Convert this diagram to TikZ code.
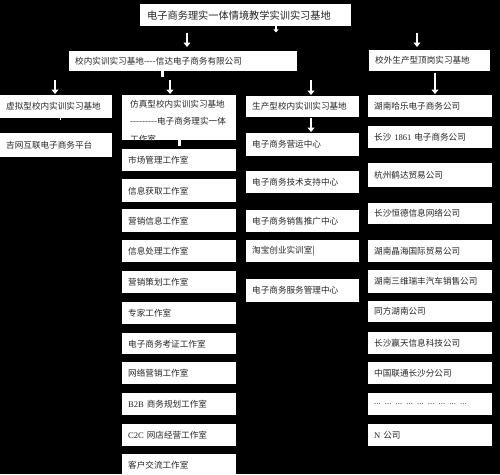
\documentclass[tikz,border=0pt]{standalone}
\usepackage{fontspec}
\setmainfont{Noto Sans CJK SC}
\newfontfamily\lat{Liberation Serif}
\usetikzlibrary{arrows.meta}
\newcommand\bxnode[6]{%
  \pgfmathsetmacro\tw{#4-12}%
  \node[bx, text width=\tw pt, minimum height=#5pt] (#1) at (#2,#3) {#6};}
\begin{document}
\begin{tikzpicture}[x=1pt,y=-1pt,
  bx/.style={fill=white, anchor=north west, inner xsep=6pt, inner ysep=0pt,
    align=left, font=\fontsize{8.6}{10}\selectfont, text=black!85},
  arr/.style={draw=white, line width=2.6pt, -{Triangle[width=7pt,length=4.5pt]}},
  tick/.style={draw=white, line width=3pt}
]
\fill[black] (0,0) rectangle (500,474);
\useasboundingbox (0,0) rectangle (500,474);

% top level
\node[bx, font=\fontsize{10.2}{12}\selectfont, minimum width=211pt, minimum height=22pt, inner xsep=7pt, text width=197pt] (top) at (140,4) {电子商务理实一体情境教学实训实习基地};
\bxnode{xn}{69}{51}{228}{20}{校内实训实习基地-{}-{}-{}-信达电子商务有限公司}
\bxnode{xw}{369}{50}{121}{21}{校外生产型顶岗实习基地}

% column 1
\bxnode{xn1}{0}{95}{112}{23}{虚拟型校内实训实习基地}
\bxnode{xn2}{0}{133}{112}{24}{吉网互联电子商务平台}

% column 2
\node[fill=white, anchor=north west, minimum width=114pt, minimum height=45pt, inner sep=0pt] (fz) at (122,95) {};
\begin{scope}
  \clip (fz.south west) rectangle (fz.north east);
  \node[anchor=north west, inner sep=0pt, align=left, text=black!85,
    font=\fontsize{8.6}{17.5}\selectfont] (fzt) at (130,100)
    {仿真型校内实训实习基地\\-{}-{}-{}-{}-{}-{}-{}-{}-电子商务理实一体\\工作室};
\end{scope}
\bxnode{s1}{122}{149}{114}{22}{市场管理工作室}
\bxnode{s2}{122}{179}{114}{23}{信息获取工作室}
\bxnode{s3}{122}{209}{114}{23}{营销信息工作室}
\bxnode{s4}{122}{240}{114}{22}{信息处理工作室}
\bxnode{s5}{122}{271}{114}{22}{营销策划工作室}
\bxnode{s6}{122}{302}{114}{22}{专家工作室}
\bxnode{s7}{122}{333}{114}{21}{电子商务考证工作室}
\bxnode{s8}{122}{362}{114}{22}{网络营销工作室}
\bxnode{s9}{122}{393}{114}{22}{{\lat B2B} 商务规划工作室}
\bxnode{s10}{122}{424}{114}{22}{{\lat C2C} 网店经营工作室}
\bxnode{s11}{122}{454}{114}{22}{客户交流工作室}

% column 3
\bxnode{sc}{246}{96}{113}{21}{生产型校内实训实习基地}
\bxnode{p1}{246}{133}{113}{23}{电子商务营运中心}
\bxnode{p2}{246}{171}{113}{22}{电子商务技术支持中心}
\bxnode{p3}{246}{210}{113}{22}{电子商务销售推广中心}
\bxnode{p4}{246}{240}{113}{22}{淘宝创业实训室|}
\bxnode{p5}{246}{279}{113}{23}{电子商务服务管理中心}

% column 4
\bxnode{c1}{368}{95}{124}{22}{湖南哈乐电子商务公司}
\bxnode{c2}{368}{126}{124}{22}{长沙 {\lat 1861} 电子商务公司}
\bxnode{c3}{368}{163}{124}{24}{杭州鹤达贸易公司}
\bxnode{c4}{368}{203}{124}{21}{长沙恒德信息网络公司}
\bxnode{c5}{368}{240}{124}{22}{湖南晶海国际贸易公司}
\bxnode{c6}{368}{270}{124}{23}{湖南三维瑞丰汽车销售公司}
\bxnode{c7}{368}{301}{124}{21}{同方湖南公司}
\bxnode{c8}{368}{332}{124}{22}{长沙赢天信息科技公司}
\bxnode{c9}{368}{362}{124}{22}{中国联通长沙分公司}
\bxnode{c10}{368}{393}{124}{22}{{\lat ... ... ... ... ... ... ... ... ...}}
\bxnode{c11}{368}{424}{124}{22}{{\lat N} 公司}

% free connector ends
\coordinate (ta) at (417,33);
\coordinate (tb) at (311,80);

% arrows
\draw[arr, shorten <=7pt, shorten >=4pt] (top.south -| 187,0) -- (xn.north -| 187,0);
\draw[-{Triangle[width=5pt,length=3pt]}, draw=white, line width=2pt] (top.south -| 276,0) -- ++(0,6);
\draw[arr, shorten >=3pt] (ta) -- (xw.north -| ta);
\draw[arr, shorten <=9pt, shorten >=1pt] (xn.south -| 55,0) -- (xn1.north -| 55,0);
\draw[tick] (xn.south -| 162,0) -- ++(0,6);
\draw[arr, shorten <=9pt, shorten >=1pt] (xn.south -| 170,0) -- (fz.north -| 170,0);
\draw[arr, shorten >=1pt] (tb) -- (sc.north -| tb);
\draw[arr, shorten <=2pt, shorten >=1pt] (xw.south -| 435,0) -- (c1.north -| 435,0);
\draw[draw=white, line width=1pt] (xn1.south -| 60,0) -- ++(0,2);
\draw[tick] (fz.south -| 179,0) -- ++(0,6);
\draw[arr, shorten <=1pt, shorten >=1pt] (sc.south -| 311,0) -- (p1.north -| 311,0);
\end{tikzpicture}
\end{document}
